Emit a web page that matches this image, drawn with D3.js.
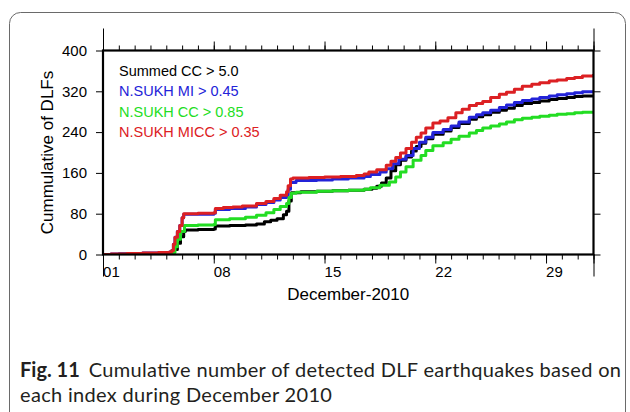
<!DOCTYPE html>
<html>
<head>
<meta charset="utf-8">
<script src="https://cdn.jsdelivr.net/npm/d3@7"></script>
<style>
  html, body { margin: 0; padding: 0; background: #fff; }
  svg { display: block; }
</style>
</head>
<body>
<svg id="chart" width="630" height="412"></svg>
<script>
// Cumulative DLF counts, [day of December 2010 (fractional), count]
const summedCC = [[1,0],[2,1],[3.5,2],[5.3,4],[5.5,10],[5.7,22],[5.9,35],[6.1,45],[6.2,48],[7,49],[8,50],[8.1,56],[9,57],[10,58],[10.7,60],[11.2,64],[11.6,67],[12,70],[12.4,78],[12.6,85],[12.75,105],[12.9,121],[13.5,123],[14.5,124],[15.5,125],[16.5,126],[17.5,128],[18,130],[18.3,134],[18.6,140],[18.9,150],[19.2,164],[19.5,176],[19.8,185],[20.15,191],[20.5,203],[20.8,212],[21.1,218],[21.4,227],[21.85,236],[22.5,242],[23,249],[23.5,257],[24.15,265],[24.6,270],[25,274],[25.5,279],[26.05,283],[26.5,287],[27,292],[27.5,296],[28.1,298],[28.6,301],[29.2,304],[29.7,306],[30.3,308],[30.8,310],[31.3,311],[32,313]];
const sukhMI = [[1,0],[1.5,1],[2.5,2],[3.5,3],[4.5,4],[5.2,5],[5.35,8],[5.45,20],[5.55,34],[5.7,45],[5.85,57],[6,72],[6.1,79],[8,81],[8.1,88],[9,90],[10,93],[10.7,98],[11.3,102],[11.8,107],[12.2,112],[12.6,116],[12.7,128],[12.85,141],[13.2,145],[14.5,146],[15.5,148],[16.5,150],[17.5,153],[17.9,157],[18.5,162],[18.9,168],[19.3,178],[19.7,187],[20.15,194],[20.6,208],[21,220],[21.4,230],[21.85,239],[22.5,245],[23,252],[23.5,260],[24.15,269],[24.6,274],[25,278],[25.5,283],[26.05,288],[26.5,293],[27,298],[27.5,302],[28.1,305],[28.6,308],[29.2,311],[29.7,313],[30.3,315],[30.8,317],[31.3,319],[32,322]];
const sukhCC = [[1,0],[2.5,1],[4,2],[5.4,4],[5.55,15],[5.7,30],[5.9,45],[6.15,57],[7,58],[8,59],[8.1,68],[9,70],[10,73],[10.7,77],[11.3,82],[11.8,88],[12.2,94],[12.6,100],[12.75,112],[12.9,120],[13.2,122],[14.5,124],[15.5,125],[16.5,126],[17.5,128],[17.9,131],[18.5,136],[19.1,142],[19.5,152],[19.8,162],[20.15,172],[20.6,185],[21.1,194],[21.4,204],[21.85,213],[22.5,219],[23,226],[23.5,232],[24.15,238],[24.6,243],[25,248],[25.5,252],[26.05,256],[26.5,260],[27,264],[27.5,267],[28.1,269],[28.6,271],[29.2,273],[29.7,275],[30.3,276],[30.8,278],[31.3,279],[32,281]];
const sukhMICC = [[1,0],[1.5,1],[2.5,2],[3.5,3],[4.5,4],[5.2,5],[5.35,8],[5.45,20],[5.55,34],[5.7,45],[5.85,57],[6,72],[6.1,80],[7,81],[8,82],[8.1,90],[8.6,92],[9.2,93],[9.8,95],[10.7,100],[11.3,104],[11.8,110],[12.2,116],[12.6,123],[12.7,135],[12.85,148],[13,150],[14,151],[15,152],[16,153],[17,155],[17.5,158],[17.8,162],[18.3,166],[18.9,175],[19.2,183],[19.5,190],[19.8,199],[20.15,208],[20.5,220],[20.8,230],[21.1,238],[21.4,248],[21.85,258],[22.3,262],[22.8,268],[23.3,278],[23.7,285],[24.15,292],[24.6,296],[25,300],[25.5,308],[26.05,314],[26.5,318],[27,324],[27.5,330],[28.1,334],[28.6,337],[29.2,340],[29.7,342],[30.3,345],[30.8,347],[31.3,350],[32,354]];

const seriesNames = ["Summed CC > 5.0", "N.SUKH MI > 0.45", "N.SUKH CC > 0.85", "N.SUKH MICC > 0.35"];
const seriesColors = ["#000000", "#2323d8", "#23dd23", "#dc2023"];
const seriesData = [summedCC, sukhMI, sukhCC, sukhMICC];
const drawOrder = [0, 1, 2, 3];

const yTicks = [0, 80, 160, 240, 320, 400];
const labelDays = [1, 8, 15, 22, 29];
const xTitle = "December-2010";
const yTitle = "Cummulative of DLFs";
const captionBold = "Fig. 11";
const captionLines = ["Cumulative number of detected DLF earthquakes based on", "each index during December 2010"];

const DAY = 86400000;
const t0 = Date.UTC(2010, 11, 1);
const toDate = d => new Date(t0 + (d - 1) * DAY);

const svg = d3.select("#chart");

// outer rounded frame of the figure panel
svg.append("rect")
  .attr("x", 9.5).attr("y", 12.5).attr("width", 616).attr("height", 440)
  .attr("rx", 11).attr("ry", 11)
  .attr("fill", "none").attr("stroke", "#6a6a6a").attr("stroke-width", 1);

const L = 103, R = 593.5, T = 50.5, B = 254.5;
const x = d3.scaleUtc().domain([toDate(1), toDate(32)]).range([L, R]);
const y = d3.scaleLinear().domain([0, 400]).range([B, T]);

const font = "'Liberation Sans', Arial, Helvetica, sans-serif";

function styleAxis(g) {
  g.select(".domain").remove();
  g.selectAll(".tick line").attr("stroke", "#000").attr("stroke-width", 1);
}

const allDays = d3.range(1, 33).map(toDate);
const majorDays = labelDays.map(toDate).concat([toDate(32)]);
const boundaryDays = [toDate(1), toDate(32)];

// bottom axis: daily minor ticks, weekly major ticks, month boundary ticks
svg.append("g").attr("transform", `translate(0,${B})`)
  .call(d3.axisBottom(x).tickValues(allDays).tickSize(5).tickFormat("")).call(styleAxis);
svg.append("g").attr("transform", `translate(0,${B})`)
  .call(d3.axisBottom(x).tickValues(majorDays).tickSize(9).tickFormat("")).call(styleAxis);
svg.append("g").attr("transform", `translate(0,${B})`)
  .call(d3.axisBottom(x).tickValues(boundaryDays).tickSize(22).tickFormat("")).call(styleAxis);
// day labels sit in the middle of each day interval
const xLabels = svg.append("g").attr("transform", `translate(0,${B})`)
  .call(d3.axisBottom(x).tickValues(labelDays.map(d => toDate(d + 0.5))).tickSize(0).tickPadding(12)
    .tickFormat(d3.utcFormat("%d")));
xLabels.call(styleAxis);
xLabels.selectAll("text").attr("font-family", font).attr("font-size", 15).attr("fill", "#000");

// top axis mirrors the bottom ticks
svg.append("g").attr("transform", `translate(0,${T})`)
  .call(d3.axisTop(x).tickValues(allDays).tickSize(5).tickFormat("")).call(styleAxis);
svg.append("g").attr("transform", `translate(0,${T})`)
  .call(d3.axisTop(x).tickValues(majorDays).tickSize(9).tickFormat("")).call(styleAxis);
svg.append("g").attr("transform", `translate(0,${T})`)
  .call(d3.axisTop(x).tickValues(boundaryDays).tickSize(22).tickFormat("")).call(styleAxis);

// left and right axes
const yAxisL = svg.append("g").attr("transform", `translate(${L},0)`)
  .call(d3.axisLeft(y).tickValues(yTicks).tickSize(7).tickPadding(9));
yAxisL.call(styleAxis);
yAxisL.selectAll("text").attr("font-family", font).attr("font-size", 15).attr("fill", "#000");
svg.append("g").attr("transform", `translate(${R},0)`)
  .call(d3.axisRight(y).tickValues(yTicks).tickSize(7).tickFormat("")).call(styleAxis);

// axis titles
svg.append("text").attr("x", (L + R) / 2).attr("y", 300)
  .attr("text-anchor", "middle").attr("font-family", font).attr("font-size", 17)
  .text(xTitle);
svg.append("text").attr("transform", `translate(53,${(T + B) / 2}) rotate(-90)`)
  .attr("text-anchor", "middle").attr("font-family", font).attr("font-size", 17)
  .text(yTitle);

// cumulative curves
svg.append("clipPath").attr("id", "plotClip")
  .append("rect").attr("x", L).attr("y", T).attr("width", R - L).attr("height", B - T);
const line = d3.line().x(d => x(toDate(d[0]))).y(d => y(d[1])).curve(d3.curveStepAfter);
const plot = svg.append("g").attr("clip-path", "url(#plotClip)");
drawOrder.forEach(i => {
  plot.append("path").datum(seriesData[i])
    .attr("d", line).attr("fill", "none")
    .attr("stroke", seriesColors[i]).attr("stroke-width", 3)
    .attr("stroke-linejoin", "round");
});

// plot frame
svg.append("rect").attr("x", L).attr("y", T).attr("width", R - L).attr("height", B - T)
  .attr("fill", "none").attr("stroke", "#000").attr("stroke-width", 2.2);

// legend
seriesNames.forEach((name, i) => {
  svg.append("text").attr("x", 119).attr("y", 76 + i * 20.4)
    .attr("font-family", font).attr("font-size", 14.5).attr("fill", seriesColors[i])
    .text(name);
});

// caption: bold figure number followed by the description
const cap = svg.append("g").attr("font-family", "Lato, 'Open Sans', sans-serif")
  .attr("font-size", 20).attr("fill", "#231f20");
const figNo = cap.append("text").attr("x", 20).attr("y", 377).attr("font-weight", "bold").text(captionBold);
const descX = 20 + figNo.node().getComputedTextLength() + 9;
const desc = cap.append("text").attr("x", descX).attr("y", 377).text(captionLines[0]);
const desc2 = cap.append("text").attr("x", 20).attr("y", 401.5).text(captionLines[1]);
// widen the description slightly so the first line reaches the right margin
const stretch = (621 - descX) / desc.node().getComputedTextLength();
[desc, desc2].forEach(t => {
  t.attr("textLength", t.node().getComputedTextLength() * stretch).attr("lengthAdjust", "spacing");
});
</script>
</body>
</html>
